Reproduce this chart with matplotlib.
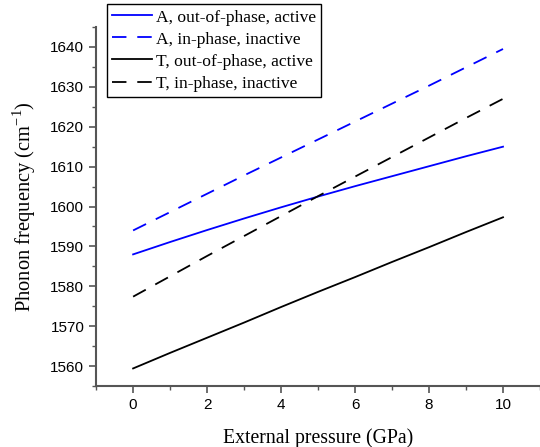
import matplotlib
matplotlib.use("Agg")
import matplotlib.pyplot as plt
from matplotlib.ticker import MultipleLocator

pressure = [0, 1, 2, 3, 4, 5, 6, 7, 8, 9, 10]
a_out = [1588.0, 1591.1, 1594.1, 1597.0, 1599.8, 1602.5, 1605.1, 1607.6, 1610.1, 1612.6, 1615.0]
a_in = [1594.0, 1598.6, 1603.2, 1607.8, 1612.3, 1616.8, 1621.3, 1625.8, 1630.3, 1634.9, 1639.5]
t_out = [1559.4, 1563.3, 1567.1, 1570.9, 1574.8, 1578.6, 1582.3, 1586.1, 1589.8, 1593.6, 1597.3]
t_in = [1577.4, 1582.5, 1587.6, 1592.6, 1597.6, 1602.6, 1607.5, 1612.4, 1617.3, 1622.2, 1627.0]
labels = ["A, out-of-phase, active", "A, in-phase, inactive",
          "T, out-of-phase, active", "T, in-phase, inactive"]

serif = "Liberation Serif"
sans = "Liberation Sans"
dash = (0, (8, 6))

fig = plt.figure(figsize=(5.4, 4.47), dpi=100)
ax = fig.add_axes([0.178, 0.1365, 0.822, 0.803])

ax.plot(pressure, a_out, color="blue", lw=1.3, ls="-", label=labels[0])
ax.plot(pressure, a_in, color="blue", lw=1.3, ls=dash, label=labels[1])
ax.plot(pressure, t_out, color="black", lw=1.3, ls="-", label=labels[2])
ax.plot(pressure, t_in, color="black", lw=1.3, ls=dash, label=labels[3])

ax.set_xlim(-1, 11)
ax.set_ylim(1555, 1645)
ax.xaxis.set_major_locator(MultipleLocator(2))
ax.xaxis.set_minor_locator(MultipleLocator(1))
ax.yaxis.set_major_locator(MultipleLocator(10))
ax.yaxis.set_minor_locator(MultipleLocator(5))

for side in ["top", "right"]:
    ax.spines[side].set_visible(False)
for side in ["left", "bottom"]:
    ax.spines[side].set_color("#555555")
    ax.spines[side].set_linewidth(1.5)

ax.tick_params(which="major", direction="out", length=5, width=1.2, color="#555555")
ax.tick_params(which="minor", direction="out", length=3, width=1.0, color="#555555")
for lab in ax.get_xticklabels() + ax.get_yticklabels():
    lab.set_fontfamily(sans)
    lab.set_fontsize(11)

ax.set_xlabel("External pressure (GPa)", fontfamily=serif, fontsize=14.2, labelpad=12)
ax.set_ylabel(r"Phonon frequency (cm$^{\mathregular{-1}}$)", fontfamily=serif,
              fontsize=14.8, labelpad=9)

leg = ax.legend(loc="upper left", bbox_to_anchor=(0.024, 1.064), frameon=True,
                fancybox=False, edgecolor="black", framealpha=1,
                prop={"family": serif, "size": 12.6}, handlelength=2.3,
                handletextpad=0.2, borderpad=0.3, labelspacing=0.33,
                borderaxespad=0)
leg.get_frame().set_linewidth(1.0)

fig.savefig("out.png", dpi=100)
